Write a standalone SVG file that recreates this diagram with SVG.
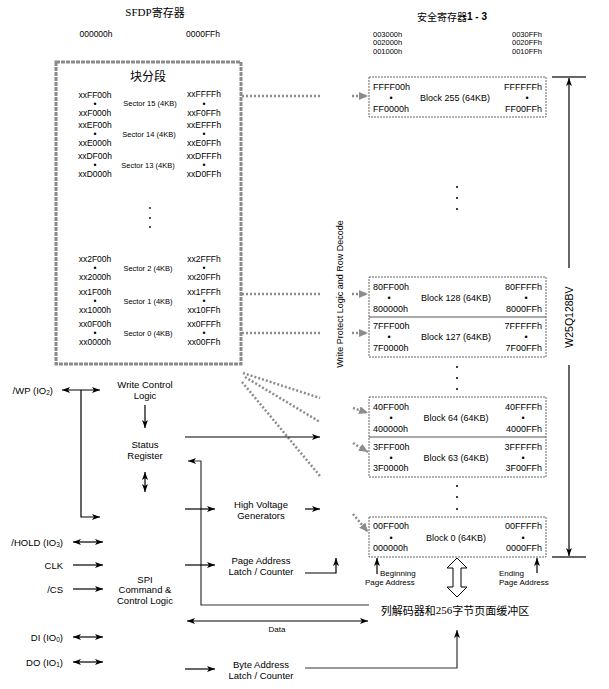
<svg xmlns="http://www.w3.org/2000/svg" width="609" height="689" viewBox="0 0 609 689">
<style>
text{font-family:"Liberation Sans",Arial,sans-serif;fill:#000;dominant-baseline:central}
.a{font-size:8.5px}
.t{font-size:7.5px}
.m{text-anchor:middle}
.e{text-anchor:end}
.s{font-size:7.5px;text-anchor:middle}
.b{font-size:9px}
.l{font-size:9.5px;text-anchor:middle}
.p{font-size:9.5px;text-anchor:end}
.cjk{font-family:"Noto Sans CJK SC",sans-serif}
.ln{stroke:#000;stroke-width:1.2;fill:none}
.lg{stroke:#333;stroke-width:1.2;fill:none}
.dot{stroke:#8c8c8c;stroke-width:2.5;stroke-dasharray:2 2;fill:none}
.blk{fill:none;stroke:#666;stroke-width:1;stroke-dasharray:2 1}
.div{stroke:#555;stroke-width:1.2}
.bar{stroke:#666;stroke-width:2}
</style>
<defs>
<marker id="ah" viewBox="0 0 8 6" refX="8" refY="3" markerWidth="8" markerHeight="6" markerUnits="userSpaceOnUse" orient="auto-start-reverse"><path d="M0,0 L8,3 L0,6 L2,3 z" fill="#000"/></marker>
<marker id="ag" viewBox="0 0 9 8" refX="9" refY="4" markerWidth="9" markerHeight="8" markerUnits="userSpaceOnUse" orient="auto"><path d="M0,0 L9,4 L0,8 z" fill="#8c8c8c"/></marker>
</defs>

<g id="titles">
<text x="155" y="12" font-size="11" text-anchor="middle"><tspan font-family="Liberation Serif,serif">SFDP</tspan><tspan font-family="Noto Sans CJK SC,sans-serif">寄存器</tspan></text>
<text class="a m" x="96" y="34">000000h</text>
<text class="a m" x="203" y="34">0000FFh</text>
<text x="452" y="16" font-size="10" text-anchor="middle"><tspan font-family="Noto Sans CJK SC,sans-serif">安全寄存器</tspan><tspan font-weight="bold">1 - 3</tspan></text>
<text class="t" x="373" y="34">003000h</text>
<text class="t" x="373" y="42.5">002000h</text>
<text class="t" x="373" y="51">001000h</text>
<text class="t e" x="542" y="34">0030FFh</text>
<text class="t e" x="542" y="42.5">0020FFh</text>
<text class="t e" x="542" y="51">0010FFh</text>
</g>

<g id="sector-box">
<rect x="56" y="62" width="185" height="302" fill="none" stroke="#8a8a8a" stroke-width="3" stroke-dasharray="4 1"/>
<text x="148" y="75" font-size="12" text-anchor="middle" class="cjk">块分段</text>
<text class="a m" x="95" y="95">xxFF00h</text><text class="a m" x="95" y="104">•</text><text class="a m" x="95" y="113">xxF000h</text>
<text class="s" x="150" y="103">Sector 15 (4KB)</text>
<text class="a m" x="204" y="94">xxFFFFh</text><text class="a m" x="204" y="104">•</text><text class="a m" x="204" y="113">xxF0FFh</text>

<text class="a m" x="95" y="125">xxEF00h</text><text class="a m" x="95" y="134">•</text><text class="a m" x="95" y="143">xxE000h</text>
<text class="s" x="149" y="134">Sector 14 (4KB)</text>
<text class="a m" x="204" y="125">xxEFFFh</text><text class="a m" x="204" y="134">•</text><text class="a m" x="204" y="143">xxE0FFh</text>

<text class="a m" x="95" y="156">xxDF00h</text><text class="a m" x="95" y="165">•</text><text class="a m" x="95" y="174">xxD000h</text>
<text class="s" x="148" y="165">Sector 13 (4KB)</text>
<text class="a m" x="204" y="156">xxDFFFh</text><text class="a m" x="204" y="165">•</text><text class="a m" x="204" y="174">xxD0FFh</text>

<circle cx="150" cy="208" r="0.9"/><circle cx="150" cy="218" r="0.9"/><circle cx="150" cy="227" r="0.9"/>

<text class="a m" x="95" y="259">xx2F00h</text><text class="a m" x="95" y="268">•</text><text class="a m" x="95" y="277">xx2000h</text>
<text class="s" x="148" y="268">Sector 2 (4KB)</text>
<text class="a m" x="204" y="259">xx2FFFh</text><text class="a m" x="204" y="268">•</text><text class="a m" x="204" y="277">xx20FFh</text>

<text class="a m" x="95" y="292">xx1F00h</text><text class="a m" x="95" y="301">•</text><text class="a m" x="95" y="310">xx1000h</text>
<text class="s" x="148" y="301">Sector 1 (4KB)</text>
<text class="a m" x="204" y="292">xx1FFFh</text><text class="a m" x="204" y="301">•</text><text class="a m" x="204" y="310">xx10FFh</text>

<text class="a m" x="95" y="324">xx0F00h</text><text class="a m" x="95" y="333">•</text><text class="a m" x="95" y="342">xx0000h</text>
<text class="s" x="148" y="333">Sector 0 (4KB)</text>
<text class="a m" x="204" y="324">xx0FFFh</text><text class="a m" x="204" y="333">•</text><text class="a m" x="204" y="342">xx00FFh</text>
</g>

<g id="block-255">
<rect class="blk" x="369" y="77" width="177" height="40"/>
<text class="b" x="373" y="87">FFFF00h</text><text class="b m" x="391" y="98">•</text><text class="b" x="373" y="109">FF0000h</text>
<text class="b m" x="455" y="98">Block 255 (64KB)</text>
<text class="b e" x="542" y="87">FFFFFFh</text><text class="b m" x="527" y="98">•</text><text class="b e" x="542" y="109">FF00FFh</text>
</g>
<g id="dots-1"><circle cx="457" cy="187" r="1"/><circle cx="457" cy="198" r="1"/><circle cx="457" cy="209" r="1"/></g>

<g id="block-128-127">
<rect class="blk" x="369" y="277" width="177" height="80"/>
<line class="div" x1="369" y1="317" x2="546" y2="317"/>
<text class="b" x="373" y="287">80FF00h</text><text class="b m" x="389" y="298">•</text><text class="b" x="373" y="309">800000h</text>
<text class="b m" x="456" y="298">Block 128 (64KB)</text>
<text class="b e" x="542" y="287">80FFFFh</text><text class="b m" x="526" y="298">•</text><text class="b e" x="542" y="309">8000FFh</text>
<text class="b" x="373" y="326">7FFF00h</text><text class="b m" x="389" y="337">•</text><text class="b" x="373" y="348">7F0000h</text>
<text class="b m" x="456" y="337">Block 127 (64KB)</text>
<text class="b e" x="542" y="326">7FFFFFh</text><text class="b m" x="526" y="337">•</text><text class="b e" x="542" y="348">7F00FFh</text>
</g>
<g id="dots-2"><circle cx="457" cy="367" r="1"/><circle cx="457" cy="378" r="1"/><circle cx="457" cy="389" r="1"/></g>

<g id="block-64-63">
<rect class="blk" x="369" y="397" width="177" height="80"/>
<line class="div" x1="369" y1="437" x2="546" y2="437"/>
<text class="b" x="373" y="407">40FF00h</text><text class="b m" x="391" y="418">•</text><text class="b" x="373" y="429">400000h</text>
<text class="b m" x="456" y="418">Block 64 (64KB)</text>
<text class="b e" x="542" y="407">40FFFFh</text><text class="b m" x="523" y="418">•</text><text class="b e" x="542" y="429">4000FFh</text>
<text class="b" x="373" y="447">3FFF00h</text><text class="b m" x="391" y="458">•</text><text class="b" x="373" y="468">3F0000h</text>
<text class="b m" x="456" y="458">Block 63 (64KB)</text>
<text class="b e" x="542" y="447">3FFFFFh</text><text class="b m" x="523" y="458">•</text><text class="b e" x="542" y="468">3F00FFh</text>
</g>
<g id="dots-3"><circle cx="457" cy="486" r="1"/><circle cx="457" cy="497" r="1"/><circle cx="457" cy="509" r="1"/></g>

<g id="block-0">
<rect class="blk" x="369" y="517" width="177" height="40"/>
<text class="b" x="373" y="526">00FF00h</text><text class="b m" x="391" y="538">•</text><text class="b" x="373" y="548">000000h</text>
<text class="b m" x="456" y="538">Block 0 (64KB)</text>
<text class="b e" x="542" y="526">00FFFFh</text><text class="b m" x="523" y="538">•</text><text class="b e" x="542" y="548">0000FFh</text>
</g>

<g id="row-decode">
<text x="340" y="294" font-size="9" text-anchor="middle" transform="rotate(-90 340 294)">Write Protect Logic and Row Decode</text>
</g>

<g id="w25q128bv">
<line class="bar" x1="552" y1="77" x2="586" y2="77"/>
<line class="bar" x1="552" y1="557" x2="586" y2="557"/>
<text x="569" y="317" font-size="10.5" text-anchor="middle" transform="rotate(-90 569 317)">W25Q128BV</text>
</g>

<g id="write-control"><text class="l" x="145" y="384">Write Control</text><text class="l" x="145" y="395">Logic</text></g>
<g id="status-register"><text class="l" x="145" y="444">Status</text><text class="l" x="145" y="455">Register</text></g>
<g id="hv-gen"><text class="l" x="261" y="504">High Voltage</text><text class="l" x="261" y="515">Generators</text></g>
<g id="page-latch"><text class="l" x="261" y="560">Page Address</text><text class="l" x="261" y="571">Latch / Counter</text></g>
<g id="spi"><text class="l" x="145" y="579">SPI</text><text class="l" x="145" y="589">Command &amp;</text><text class="l" x="145" y="600">Control Logic</text></g>
<g id="byte-latch"><text class="l" x="261" y="664">Byte Address</text><text class="l" x="261" y="675">Latch / Counter</text></g>
<g id="page-buffer"><text x="455" y="610" font-size="11" text-anchor="middle" class="cjk">列解码器和<tspan font-family="Liberation Serif,serif">256</tspan>字节页面缓冲区</text></g>

<g id="pins">
<text class="p" x="53" y="390">/WP (IO<tspan font-size="6.5" dy="2">2</tspan><tspan dy="-2">)</tspan></text>
<text class="p" x="63" y="542">/HOLD (IO<tspan font-size="6.5" dy="2">3</tspan><tspan dy="-2">)</tspan></text>
<text class="p" x="63" y="565">CLK</text>
<text class="p" x="63" y="589">/CS</text>
<text class="p" x="63" y="637">DI (IO<tspan font-size="6.5" dy="2">0</tspan><tspan dy="-2">)</tspan></text>
<text class="p" x="63" y="662">DO (IO<tspan font-size="6.5" dy="2">1</tspan><tspan dy="-2">)</tspan></text>
</g>

<g id="addr-labels">
<text x="380" y="573" font-size="8">Beginning</text>
<text x="365" y="582" font-size="8">Page Address</text>
<text x="499" y="573" font-size="8">Ending</text>
<text x="499" y="582" font-size="8">Page Address</text>
</g>

<g id="connectors">
<line class="dot" x1="242" y1="96" x2="322" y2="96"/>
<line class="dot" x1="352" y1="96" x2="368" y2="96" marker-end="url(#ag)"/>
<line class="dot" x1="242" y1="294" x2="322" y2="294"/>
<line class="dot" x1="352" y1="294" x2="368" y2="294" marker-end="url(#ag)"/>
<line class="dot" x1="242" y1="333" x2="322" y2="333"/>
<line class="dot" x1="352" y1="333" x2="368" y2="333" marker-end="url(#ag)"/>
<line class="dot" x1="243" y1="373" x2="320" y2="398"/>
<line class="dot" x1="353" y1="408" x2="368" y2="413" marker-end="url(#ag)"/>
<line class="dot" x1="245" y1="377" x2="320" y2="422"/>
<line class="dot" x1="353" y1="443" x2="368" y2="452" marker-end="url(#ag)"/>
<line class="dot" x1="242" y1="382" x2="320" y2="476"/>
<line class="dot" x1="353" y1="514" x2="368" y2="532" marker-end="url(#ag)"/>

<line class="ln" x1="569" y1="268" x2="569" y2="78" marker-end="url(#ah)"/>
<line class="ln" x1="569" y1="365" x2="569" y2="556" marker-end="url(#ah)"/>

<line class="ln" x1="62" y1="390" x2="100" y2="390" marker-start="url(#ah)" marker-end="url(#ah)"/>
<polyline class="ln" points="81,390 81,517 100,517" marker-end="url(#ah)"/>
<line class="ln" x1="145" y1="405" x2="145" y2="428" marker-end="url(#ah)"/>
<line class="ln" x1="145" y1="472" x2="145" y2="492" marker-start="url(#ah)" marker-end="url(#ah)"/>
<line class="ln" x1="185" y1="437" x2="320" y2="437" marker-end="url(#ah)"/>
<polyline class="lg" points="369,605 201,605 201,461 188,461" marker-end="url(#ah)"/>
<line class="ln" x1="185" y1="509" x2="215" y2="509" marker-end="url(#ah)"/>
<line class="ln" x1="305" y1="509" x2="320" y2="509" marker-end="url(#ah)"/>
<line class="ln" x1="185" y1="565" x2="215" y2="565" marker-end="url(#ah)"/>
<polyline class="ln" points="305,573 336,573 336,558" marker-end="url(#ah)"/>
<line class="ln" x1="73" y1="542" x2="103" y2="542" marker-start="url(#ah)" marker-end="url(#ah)"/>
<line class="ln" x1="73" y1="565" x2="103" y2="565" marker-end="url(#ah)"/>
<line class="ln" x1="73" y1="589" x2="103" y2="589" marker-end="url(#ah)"/>
<line class="ln" x1="73" y1="637" x2="103" y2="637" marker-start="url(#ah)" marker-end="url(#ah)"/>
<line class="ln" x1="73" y1="662" x2="103" y2="662" marker-start="url(#ah)" marker-end="url(#ah)"/>
<line class="ln" x1="187" y1="621" x2="368" y2="621" marker-start="url(#ah)" marker-end="url(#ah)"/>
<text x="277" y="629" font-size="8" text-anchor="middle">Data</text>
<line class="ln" x1="185" y1="669" x2="215" y2="669" marker-end="url(#ah)"/>
<polyline class="lg" points="305,668 457,668 457,630" marker-end="url(#ah)"/>
<line class="ln" x1="377" y1="574" x2="377" y2="558" marker-end="url(#ah)"/>
<line class="ln" x1="537" y1="573" x2="537" y2="558" marker-end="url(#ah)"/>
<polygon points="457,558 467,568 461,568 461,587 467,587 457,597 447,587 453,587 453,568 447,568" fill="#fff" stroke="#000" stroke-width="1"/>
</g>
</svg>
